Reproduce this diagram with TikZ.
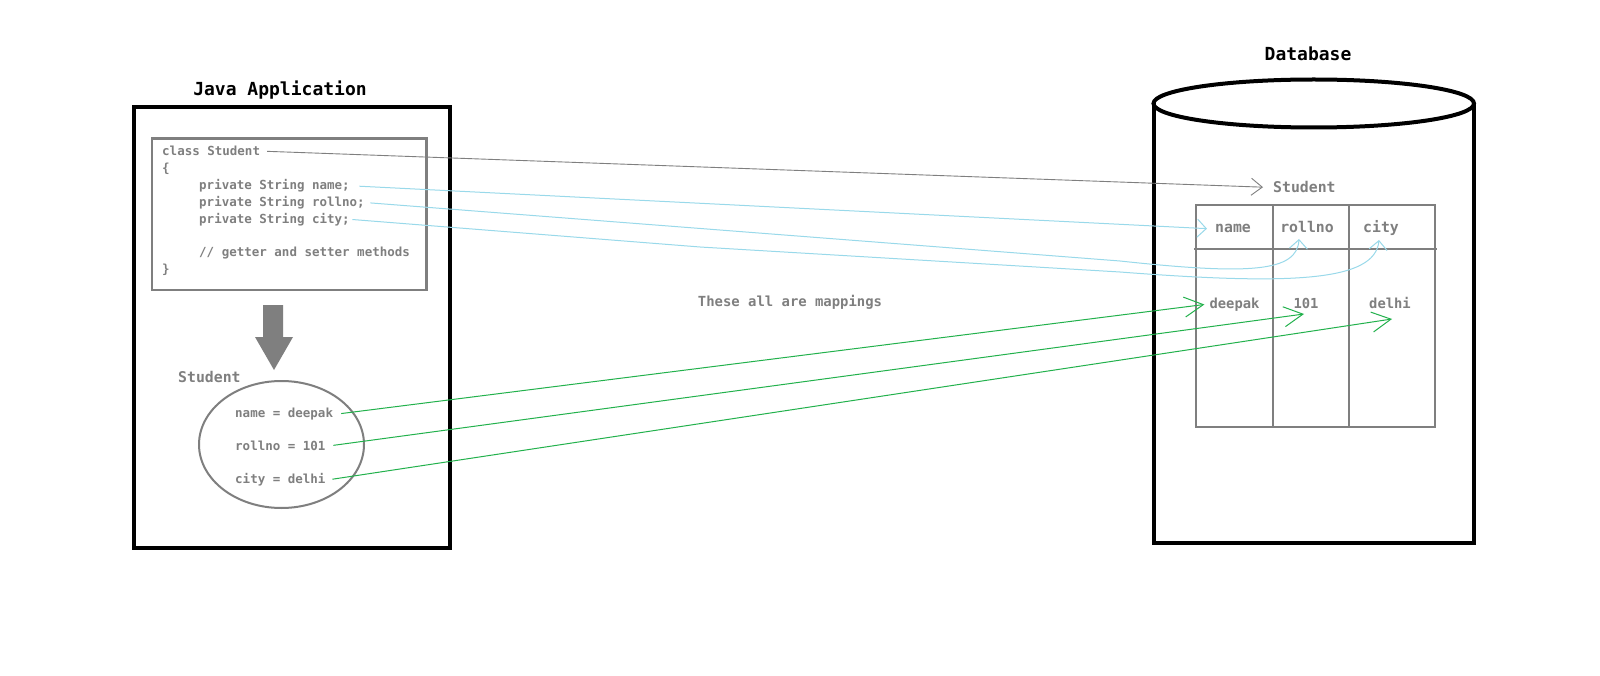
\documentclass[tikz,border=0pt]{standalone}
\usepackage{fontspec}
\setmonofont{DejaVu Sans Mono}
\usetikzlibrary{arrows.meta,shapes.geometric}
\definecolor{txtgray}{HTML}{7F7F7F}
\definecolor{linegray}{HTML}{7F7F7F}
\definecolor{mapblue}{HTML}{99D9EA}
\definecolor{mapgreen}{HTML}{22B14C}
\tikzset{
  title/.style={font=\ttfamily\bfseries\fontsize{18}{18}\selectfont, text=black, inner sep=0pt, anchor=base},
  code/.style={font=\ttfamily\bfseries\fontsize{12.5}{12.5}\selectfont, text=txtgray, inner sep=0pt, anchor=base west},
  biglbl/.style={font=\ttfamily\bfseries\fontsize{14.8}{14.8}\selectfont, text=txtgray, inner sep=0pt},
  datalbl/.style={font=\ttfamily\bfseries\fontsize{13.8}{13.8}\selectfont, text=txtgray, inner sep=0pt, anchor=base},
  thickbox/.style={draw=black, line width=4pt},
  graybox/.style={draw=linegray, line width=2.5pt},
  grayconn/.style={draw=linegray, line width=0.9pt, -{Straight Barb[length=11pt,width=17pt]}},
  blueconn/.style={draw=mapblue, line width=1pt, -{Straight Barb[length=9pt,width=18pt]}},
  greenconn/.style={draw=mapgreen, line width=1pt, -{Straight Barb[length=19pt,width=20pt]}},
}
\begin{document}
\begin{tikzpicture}[x=1pt,y=-1pt]
\useasboundingbox[fill=white] (0,0) rectangle (1600,676);

% ---------- Java application ----------
\node[title] (javatitle) at (280,96) {Java Application};
\node[thickbox, minimum width=316pt, minimum height=441pt, inner sep=0pt] (javabox) at (292,327.5) {};
\node[graybox, minimum width=274.7pt, minimum height=151.7pt, inner sep=0pt] (codebox) at (289.35,214.15) {};

\node[code] (cls)   at (162,156)   {class Student};
\node[code] (ob)    at (162,173)   {\{};
\node[code] (pname) at (199,190)   {private String name;};
\node[code] (proll) at (199,206.7) {private String rollno;};
\node[code] (pcity) at (199,223.3) {private String city;};
\node[code] (cmt)   at (199,256.7) {// getter and setter methods};
\node[code] (cb)    at (162,273.3) {\}};

% block arrow
\fill[linegray] (263,305) -- (283,305) -- (283,337) -- (293,337) -- (274,370) -- (255,337) -- (263,337) -- cycle;

\node[biglbl, anchor=base west] (objlbl) at (178,382.7) {Student};
\node[ellipse, draw=linegray, line width=2pt, minimum width=165pt, minimum height=127pt, inner sep=0pt] (obj) at (281.5,444.5) {};
\node[code] (oname) at (235,417) {name = deepak};
\node[code] (oroll) at (235,450) {rollno = 101};
\node[code] (ocity) at (235,483) {city = delhi};

% ---------- Database ----------
\node[title] (dbtitle) at (1308,60.7) {Database};
\draw[black, line width=4pt] (1153.5,103.5) -- (1153.5,543) -- (1474,543) -- (1474,103.5);
\draw[black, line width=4pt] (1313.75,103.5) ellipse [x radius=160.25pt, y radius=24pt];

\node[biglbl, anchor=base west] (dbstu) at (1273,192.7) {Student};

\node[draw=linegray, line width=2.5pt, minimum width=239pt, minimum height=222pt, inner sep=0pt] (tbl) at (1315.5,316) {};
\draw[linegray, line width=2.5pt] (1194,249) -- (1437,249);
\draw[linegray, line width=2.5pt] (1273,205) -- (1273,427);
\draw[linegray, line width=2.5pt] (1349,205) -- (1349,427);

\node[biglbl, anchor=base] (hname) at (1233,232.7) {name};
\node[biglbl, anchor=base] (hroll) at (1307,232.7) {rollno};
\node[biglbl, anchor=base] (hcity) at (1381,232.7) {city};

\node[datalbl] (ddeep) at (1234.5,308.3) {deepak};
\node[datalbl] (d101)  at (1306,308.3) {101};
\node[datalbl] (ddel)  at (1390,308.3) {delhi};

\node[font=\ttfamily\bfseries\fontsize{13.9}{13.9}\selectfont, text=txtgray, inner sep=0pt, anchor=base] (mapnote) at (790,306.7) {These all are mappings};

% ---------- connectors ----------
\coordinate (troll) at (1299,239);
\coordinate (tcity) at (1379,240);
\coordinate (t101)  at (1304,314);
\coordinate (tdel)  at (1392,319);

\draw[grayconn] ([xshift=7pt]cls.east) -- ([xshift=-10pt]dbstu.west);
\draw[blueconn] ([xshift=9.5pt]pname.east) -- ([xshift=-8pt]hname.west);
\draw[blueconn] ([xshift=5.4pt]proll.east) -- (1120,261) .. controls (1250,275) and (1297,272) .. (troll);
\draw[blueconn] ([xshift=2.5pt]pcity.east) -- (700,247) -- (1120,272) .. controls (1290,285) and (1375,282) .. (tcity);

\draw[greenconn] ([xshift=8pt]oname.east) -- ([xshift=-5pt]ddeep.west);
\draw[greenconn] ([xshift=7.7pt]oroll.east) -- (t101);
\draw[greenconn] ([xshift=6.7pt]ocity.east) -- (tdel);
\end{tikzpicture}
\end{document}
